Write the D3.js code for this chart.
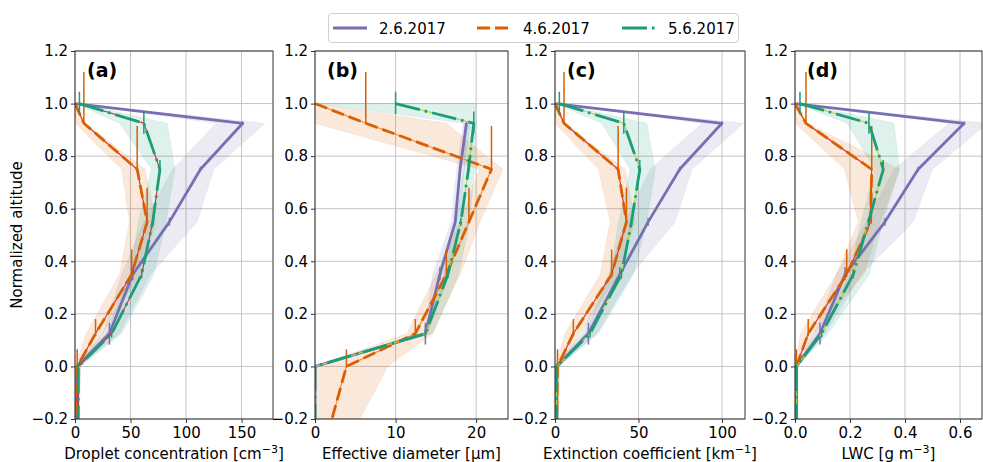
<!DOCTYPE html>
<html><head><meta charset="utf-8">
<script src="https://cdn.jsdelivr.net/npm/d3@7"></script>
<style>body{margin:0;background:#fff} text{font-family:"DejaVu Sans",sans-serif;fill:#000}</style>
</head><body><svg id="c" width="983" height="462"></svg>
<script>
// ---------------- data ----------------
const altitude = [1.0, 0.925, 0.75, 0.55, 0.35, 0.125, 0.0, -0.2];
const seriesNames = ["2.6.2017", "4.6.2017", "5.6.2017"];
const panelLetters = ["(a)", "(b)", "(c)", "(d)"];
const yTicks = [-0.2, 0.0, 0.2, 0.4, 0.6, 0.8, 1.0, 1.2];
const xTicksA = [0, 50, 100, 150];
const xTicksB = [0, 10, 20];
const xTicksC = [0, 50, 100];
const xTicksD = [0.0, 0.2, 0.4, 0.6];

// altitude ranges (vertical bars), shared by all panels
const errLo_0206 = [null, 0.918, 0.742, 0.535, 0.328, 0.083, -0.006, null];
const errHi_0206 = [null, 0.932, 0.760, 0.565, 0.377, 0.166, 0.006, null];
const errLo_0406 = [null, 0.925, 0.745, 0.55, 0.34, 0.115, -0.005, null];
const errHi_0406 = [null, 1.12, 0.915, 0.68, 0.445, 0.18, 0.065, null];
const errLo_0506 = [0.96, 0.885, 0.735, 0.535, 0.335, 0.11, -0.01, null];
const errHi_0506 = [1.045, 0.97, 0.785, 0.565, 0.37, 0.14, 0.01, null];

// (a) droplet concentration
const nd_0206 = [0, 151, 113, 85, 52, 31, 2, 1];
const nd_0206_min = [0, 127, 88, 62, 42, 25, 0, 0];
const nd_0206_max = [0, 171, 125, 110, 68, 40, 4, 2];
const nd_0406 = [0, 8, 56, 65, 51, 18.5, 2, 2];
const nd_0406_min = [0, 0, 42, 49, 40, 10, 0, 0];
const nd_0406_max = [0, 9, 63, 73, 58, 25, 5, 3];
const nd_0506 = [4, 62, 76.5, 70, 60, 33, 3, 3];
const nd_0506_min = [0, 40, 69, 57, 50, 28, 0, 0];
const nd_0506_max = [5, 83, 90, 82, 71, 42, 5, 4];

// (b) effective diameter
const ed_0206 = [null, 18.8, 18.0, 17.4, 15.5, 13.7, 0, 0];
const ed_0206_min = [null, 18.4, 17.6, 16.9, 14.6, 13.5, 0, 0];
const ed_0206_max = [null, 19.3, 18.5, 18.0, 16.6, 14.0, 0, 0];
const ed_0406 = [0, 6.3, 21.9, 19.1, 16.3, 12.45, 3.9, 2.1];
const ed_0406_min = [0, 0, 20.4, 18.0, 15.0, 11.4, 0, 0];
const ed_0406_max = [0, 16.3, 23.3, 20.5, 18.0, 14.6, 9, 5.6];
const ed_0506 = [10, 19.7, 19.05, 18.1, 16.5, 13.7, 0, 0];
const ed_0506_min = [0, 18.5, 18.5, 17.5, 16.0, 13.5, 0, 0];
const ed_0506_max = [20, 20, 19.8, 19.2, 17.8, 14.6, 0, 0];

// (c) extinction coefficient
const ext_0206 = [0, 100, 74.7, 55.8, 38.8, 20, 1, 1];
const ext_0206_min = [0, 88, 57, 42, 32, 16, 0, 0];
const ext_0206_max = [0, 113, 82, 72, 46, 25, 2, 2];
const ext_0406 = [0, 5.4, 37.8, 42.8, 33.9, 11, 1.5, 1];
const ext_0406_min = [0, 0, 26, 33, 27, 6, 0, 0];
const ext_0406_max = [0, 6, 42, 48, 38, 15, 3, 2];
const ext_0506 = [2.6, 41.2, 50.8, 45.8, 39.8, 21, 1, 1];
const ext_0506_min = [0, 28, 45, 38, 33, 18, 0, 0];
const ext_0506_max = [3, 55, 60, 55, 47, 26, 2, 2];

// (d) LWC
const lwc_0206 = [0, 0.615, 0.448, 0.327, 0.182, 0.091, 0.005, 0.005];
const lwc_0206_min = [0, 0.56, 0.36, 0.26, 0.15, 0.07, 0, 0];
const lwc_0206_max = [0, 0.70, 0.50, 0.43, 0.24, 0.11, 0.01, 0.01];
const lwc_0406 = [0, 0.04, 0.279, 0.275, 0.188, 0.048, 0.005, 0.005];
const lwc_0406_min = [0, 0, 0.18, 0.23, 0.15, 0.02, 0, 0];
const lwc_0406_max = [0, 0.045, 0.38, 0.31, 0.25, 0.07, 0.01, 0.01];
const lwc_0506 = [0.018, 0.269, 0.321, 0.267, 0.212, 0.097, 0.005, 0.005];
const lwc_0506_min = [0, 0.19, 0.29, 0.24, 0.20, 0.08, 0, 0];
const lwc_0506_max = [0.02, 0.36, 0.38, 0.32, 0.27, 0.12, 0.01, 0.01];

// ---------------- layout / style ----------------
const colors = ["#7570b3", "#d95f02", "#1b9e77"];
const dashes = [null, "13,5", "25,5,2.5,5"];
const legendLen = [34, 31, 34];
const errLo = [errLo_0206, errLo_0406, errLo_0506];
const errHi = [errHi_0206, errHi_0406, errHi_0506];

const panels = [
  {left: 75, right: 273, dom: [0, 178.3], ticks: xTicksA, fmt: d3.format("d"),
   series: [[nd_0206, nd_0206_min, nd_0206_max], [nd_0406, nd_0406_min, nd_0406_max], [nd_0506, nd_0506_min, nd_0506_max]],
   label: ["Droplet concentration [cm", "−3", "]"], thin: ["#d62728", "#d62728"]},
  {left: 315, right: 508, dom: [0, 23.95], ticks: xTicksB, fmt: d3.format("d"),
   series: [[ed_0206, ed_0206_min, ed_0206_max], [ed_0406, ed_0406_min, ed_0406_max], [ed_0506, ed_0506_min, ed_0506_max]],
   label: ["Effective diameter [μm]", null, null], thin: ["#f08a30", "#b5d334"]},
  {left: 555, right: 745, dom: [0, 113.8], ticks: xTicksC, fmt: d3.format("d"),
   series: [[ext_0206, ext_0206_min, ext_0206_max], [ext_0406, ext_0406_min, ext_0406_max], [ext_0506, ext_0506_min, ext_0506_max]],
   label: ["Extinction coefficient [km", "−1", "]"], thin: ["#d62728", "#b5d334"]},
  {left: 795, right: 982, dom: [0, 0.68], ticks: xTicksD, fmt: d3.format(".1f"),
   series: [[lwc_0206, lwc_0206_min, lwc_0206_max], [lwc_0406, lwc_0406_min, lwc_0406_max], [lwc_0506, lwc_0506_min, lwc_0506_max]],
   label: ["LWC [g m", "−3", "]"], thin: ["#d62728", "#b5d334"]}
];

const yTop = 51, yBot = 419;
const y = d3.scaleLinear().domain([-0.2, 1.2]).range([yBot, yTop]);
const svg = d3.select("#c");
const FS = 15;

panels.forEach((p, pi) => {
  const x = d3.scaleLinear().domain(p.dom).range([p.left, p.right]);
  const g = svg.append("g");
  const cid = "clip" + pi;
  svg.append("clipPath").attr("id", cid).append("rect")
    .attr("x", p.left).attr("y", yTop).attr("width", p.right - p.left).attr("height", yBot - yTop);

  // grid
  g.selectAll(".gx").data(p.ticks).enter().append("line")
    .attr("x1", d => x(d)).attr("x2", d => x(d)).attr("y1", yTop).attr("y2", yBot)
    .attr("stroke", "#c4c4c4").attr("stroke-width", 1);
  g.selectAll(".gy").data(yTicks).enter().append("line")
    .attr("x1", p.left).attr("x2", p.right).attr("y1", d => y(d)).attr("y2", d => y(d))
    .attr("stroke", "#c4c4c4").attr("stroke-width", 1);

  const plot = g.append("g").attr("clip-path", `url(#${cid})`);
  const idx = d3.range(altitude.length);

  p.series.forEach((s, si) => {
    const [m, lo, hi] = s;
    const area = d3.area()
      .defined(i => lo[i] != null && hi[i] != null)
      .y(i => y(altitude[i])).x0(i => x(lo[i])).x1(i => x(hi[i]));
    plot.append("path").attr("d", area(idx))
      .attr("fill", colors[si]).attr("fill-opacity", 0.14)
      .attr("stroke", colors[si]).attr("stroke-opacity", 0.08).attr("stroke-width", 1);
  });

  p.series.forEach((s, si) => {
    const m = s[0];
    const line = d3.line().defined(i => m[i] != null).x(i => x(m[i])).y(i => y(altitude[i]));
    if (si > 0) {
      plot.append("path").attr("d", line(idx)).attr("fill", "none")
        .attr("stroke", p.thin[si - 1]).attr("stroke-width", 1.1);
    }
    const path = plot.append("path").attr("d", line(idx)).attr("fill", "none")
      .attr("stroke", colors[si]).attr("stroke-width", 2.8).attr("stroke-linejoin", "round");
    if (dashes[si]) path.attr("stroke-dasharray", dashes[si]);
    // vertical altitude bars
    plot.selectAll(null).data(idx.filter(i => m[i] != null && errLo[si][i] != null)).enter()
      .append("line")
      .attr("x1", i => x(m[i])).attr("x2", i => x(m[i]))
      .attr("y1", i => y(errLo[si][i])).attr("y2", i => y(errHi[si][i]))
      .attr("stroke", colors[si]).attr("stroke-width", 1.5);
  });

  // axes
  const xAxis = d3.axisBottom(x).tickValues(p.ticks).tickFormat(p.fmt).tickSize(4).tickPadding(4);
  const yAxis = d3.axisLeft(y).tickValues(yTicks).tickFormat(d3.format(".1f")).tickSize(4).tickPadding(3);
  const ax = g.append("g").attr("transform", `translate(0,${yBot})`).call(xAxis);
  const ay = g.append("g").attr("transform", `translate(${p.left},0)`).call(yAxis);
  [ax, ay].forEach(a => {
    a.select(".domain").remove();
    a.selectAll("text").attr("font-size", FS).attr("font-family", "DejaVu Sans").attr("fill", "#000");
    a.selectAll("line").attr("stroke", "#333");
  });
  // frame
  g.append("rect").attr("x", p.left).attr("y", yTop).attr("width", p.right - p.left).attr("height", yBot - yTop)
    .attr("fill", "none").attr("stroke", "#333").attr("stroke-width", 1);

  // panel letter
  g.append("text").attr("x", p.left + 12).attr("y", 77).attr("font-size", 19).attr("font-weight", "bold")
    .text(panelLetters[pi]);

  // x label
  const t = g.append("text").attr("x", (p.left + p.right) / 2).attr("y", 459)
    .attr("text-anchor", "middle").attr("font-size", FS);
  t.append("tspan").text(p.label[0]);
  if (p.label[1]) {
    t.append("tspan").attr("dy", -6).attr("font-size", 11).text(p.label[1]);
    t.append("tspan").attr("dy", 6).text(p.label[2]);
  }
});

// y label
svg.append("text").attr("transform", "translate(22,235) rotate(-90)")
  .attr("text-anchor", "middle").attr("font-size", FS).text("Normalized altitude");

// legend
const lg = svg.append("g");
lg.append("rect").attr("x", 328.5).attr("y", 13.5).attr("width", 410).attr("height", 29).attr("rx", 3)
  .attr("fill", "#fff").attr("stroke", "#d0d0d0");
const lx = [333, 477, 622];
seriesNames.forEach((nm, i) => {
  const l = lg.append("line").attr("x1", lx[i]).attr("x2", lx[i] + legendLen[i]).attr("y1", 28).attr("y2", 28)
    .attr("stroke", colors[i]).attr("stroke-width", 2.8);
  if (dashes[i]) l.attr("stroke-dasharray", dashes[i]);
  lg.append("text").attr("x", lx[i] + 46).attr("y", 33.5).attr("font-size", FS).text(nm);
});
</script></body></html>
